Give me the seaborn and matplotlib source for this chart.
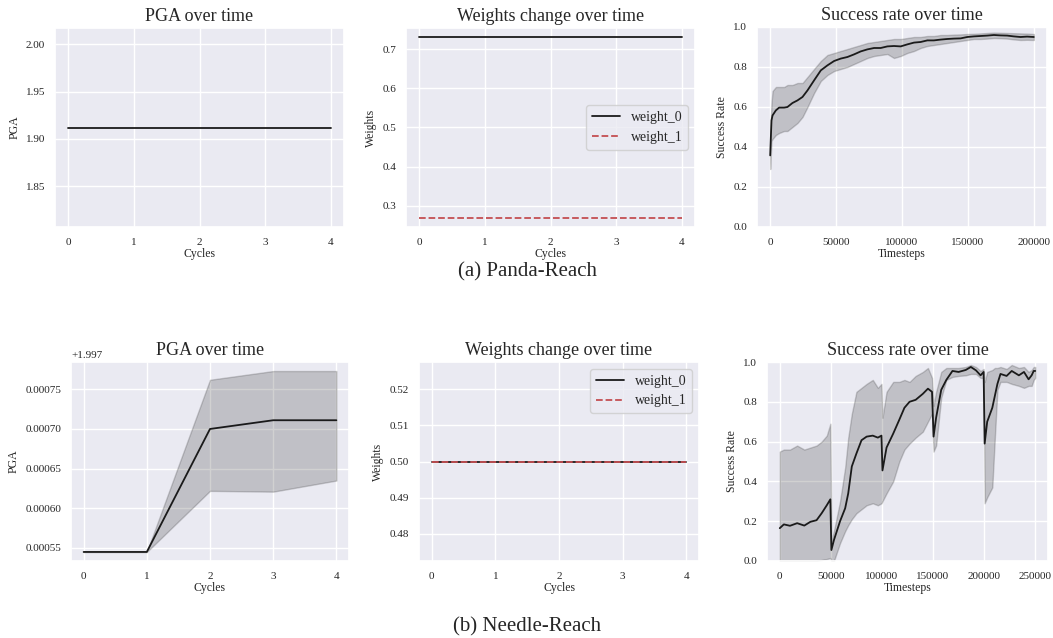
import matplotlib
matplotlib.use("Agg")
import matplotlib.pyplot as plt
import seaborn as sns

sns.set_theme(style="darkgrid")
plt.rcParams["font.family"] = ["Liberation Serif", "DejaVu Serif"]

# ---- dados ----
cycles = [0, 1, 2, 3, 4]

# (a) Panda-Reach
panda_pga = [1.912, 1.912, 1.912, 1.912, 1.912]
panda_w0 = [0.731, 0.731, 0.731, 0.731, 0.731]
panda_w1 = [0.269, 0.269, 0.269, 0.269, 0.269]

panda_steps = [0, 1000, 1800, 4300, 6800, 10600, 13100, 16900, 20700, 24500,
               28300, 33300, 38400, 43400, 48500, 53500, 58600, 63600, 68700, 73700,
               78800, 83800, 88900, 93900, 99000, 104000, 109100, 114100, 119200, 124200,
               129300, 134300, 139400, 144400, 149500, 154500, 159600, 164600, 169700, 174700,
               179800, 184800, 189900, 194900, 200000]
panda_sr = [0.358, 0.533, 0.558, 0.583, 0.597, 0.597, 0.600, 0.620, 0.633, 0.650,
            0.683, 0.733, 0.783, 0.808, 0.830, 0.842, 0.850, 0.863, 0.878, 0.888,
            0.895, 0.895, 0.903, 0.905, 0.903, 0.913, 0.922, 0.925, 0.933, 0.933,
            0.937, 0.940, 0.942, 0.943, 0.950, 0.953, 0.955, 0.957, 0.960, 0.958,
            0.957, 0.953, 0.950, 0.952, 0.950]
panda_sr_lo = [0.29, 0.43, 0.44, 0.46, 0.47, 0.48, 0.48, 0.50, 0.52, 0.55,
               0.60, 0.67, 0.73, 0.76, 0.78, 0.79, 0.80, 0.815, 0.83, 0.845,
               0.855, 0.86, 0.865, 0.845, 0.855, 0.87, 0.88, 0.895, 0.905, 0.91,
               0.915, 0.92, 0.925, 0.93, 0.935, 0.94, 0.94, 0.942, 0.945, 0.944,
               0.942, 0.938, 0.935, 0.936, 0.935]
panda_sr_hi = [0.45, 0.62, 0.68, 0.70, 0.70, 0.70, 0.71, 0.71, 0.72, 0.72,
               0.75, 0.79, 0.83, 0.86, 0.87, 0.88, 0.89, 0.90, 0.91, 0.92,
               0.925, 0.93, 0.935, 0.94, 0.94, 0.945, 0.95, 0.95, 0.955, 0.955,
               0.96, 0.96, 0.962, 0.963, 0.965, 0.966, 0.968, 0.97, 0.972, 0.971,
               0.97, 0.969, 0.968, 0.967, 0.965]

# (b) Needle-Reach
needle_pga = [1.997545, 1.997545, 1.997700, 1.997711, 1.997711]
needle_pga_lo = [1.997545, 1.997545, 1.997622, 1.997621, 1.997635]
needle_pga_hi = [1.997545, 1.997545, 1.997762, 1.997773, 1.997773]
needle_w0 = [0.5, 0.5, 0.5, 0.5, 0.5]
needle_w1 = [0.5, 0.5, 0.5, 0.5, 0.5]

needle_steps = [0, 4000, 10000, 17000, 24000, 30000, 36000, 41000, 46000, 49500,
                50500, 53000, 59000, 64000, 67000, 70500, 75000, 80000, 85000, 91000,
                96000, 99500, 100500, 104500, 111000, 117000, 122000, 127000, 133000, 140000,
                145000, 149000, 150500, 153000, 158000, 163000, 169000, 175000, 182000, 187000,
                192000, 196500, 199500, 200500, 203000, 208000, 210500, 213000, 216000, 222000,
                227000, 234000, 239000, 243500, 246500, 248500, 250000]
needle_sr = [0.165, 0.184, 0.177, 0.190, 0.178, 0.197, 0.205, 0.240, 0.280, 0.310,
             0.055, 0.105, 0.200, 0.265, 0.340, 0.475, 0.540, 0.607, 0.625, 0.630,
             0.620, 0.630, 0.455, 0.570, 0.640, 0.710, 0.770, 0.800, 0.810, 0.840,
             0.866, 0.850, 0.625, 0.720, 0.860, 0.910, 0.955, 0.950, 0.960, 0.975,
             0.958, 0.933, 0.950, 0.590, 0.700, 0.770, 0.830, 0.890, 0.940, 0.930,
             0.955, 0.933, 0.950, 0.913, 0.933, 0.955, 0.955]
needle_sr_lo = [0.0, 0.0, 0.0, 0.0, 0.0, 0.0, 0.0, 0.005, 0.01, 0.015,
                0.0, 0.0, 0.09, 0.15, 0.18, 0.21, 0.24, 0.26, 0.28, 0.29,
                0.28, 0.29, 0.30, 0.34, 0.40, 0.50, 0.56, 0.59, 0.62, 0.65,
                0.70, 0.74, 0.55, 0.58, 0.82, 0.91, 0.925, 0.93, 0.933, 0.94,
                0.94, 0.92, 0.92, 0.29, 0.32, 0.37, 0.62, 0.86, 0.90, 0.90,
                0.89, 0.88, 0.87, 0.88, 0.88, 0.91, 0.92]
needle_sr_hi = [0.55, 0.56, 0.56, 0.58, 0.56, 0.57, 0.58, 0.60, 0.63, 0.69,
                0.10, 0.15, 0.30, 0.47, 0.62, 0.74, 0.85, 0.87, 0.89, 0.91,
                0.87, 0.89, 0.72, 0.85, 0.90, 0.90, 0.91, 0.90, 0.93, 0.95,
                0.97, 0.92, 0.78, 0.85, 0.95, 0.97, 0.97, 0.97, 0.975, 0.985,
                0.975, 0.955, 0.965, 0.90, 0.95, 0.96, 0.97, 0.97, 0.975, 0.965,
                0.985, 0.97, 0.975, 0.95, 0.96, 0.975, 0.975]

# ---- figura ----
W, H = 1053, 638
fig = plt.figure(figsize=(W / 100, H / 100), dpi=100)


def rect(l, t, r, b):
    return [l / W, 1 - b / H, (r - l) / W, (b - t) / H]


LINE = "#1a1a1a"
RED = "#c44e52"


def style(ax, title, xlabel, ylabel):
    ax.set_title(title, fontsize=13, pad=5)
    ax.set_xlabel(xlabel, fontsize=8.5, labelpad=1)
    ax.set_ylabel(ylabel, fontsize=8.5, labelpad=4)
    ax.tick_params(labelsize=8, length=0)
    ax.tick_params(axis="x", pad=8)
    ax.tick_params(axis="y", pad=7)
    ax.yaxis.get_offset_text().set_fontsize(8)


def pga_plot(ax, y, lo=None, hi=None):
    sns.lineplot(x=cycles, y=y, ax=ax, color=LINE, linewidth=1.3)
    if lo is not None:
        ax.fill_between(cycles, lo, hi, color="k", alpha=0.2)
    ax.set_xticks(cycles)
    style(ax, "PGA over time", "Cycles", "PGA")


def weights_plot(ax, w0, w1, loc):
    sns.lineplot(x=cycles, y=w0, ax=ax, color=LINE, linewidth=1.3, label="weight_0")
    sns.lineplot(x=cycles, y=w1, ax=ax, color=RED, linewidth=1.3, linestyle="--", label="weight_1")
    ax.set_xticks(cycles)
    ax.legend(loc=loc, fontsize=10)
    style(ax, "Weights change over time", "Cycles", "Weights")


def sr_plot(ax, x, y, lo, hi):
    sns.lineplot(x=x, y=y, ax=ax, color=LINE, linewidth=1.3)
    ax.fill_between(x, lo, hi, color="k", alpha=0.2)
    ax.set_ylim(0, 1.0)
    style(ax, "Success rate over time", "Timesteps", "Success Rate")


# (a) Panda-Reach
ax1 = fig.add_axes(rect(55, 28, 344, 227))
pga_plot(ax1, panda_pga)
ax2 = fig.add_axes(rect(406, 28, 695, 227))
weights_plot(ax2, panda_w0, panda_w1, "center right")
ax3 = fig.add_axes(rect(757, 27, 1047, 227))
sr_plot(ax3, panda_steps, panda_sr, panda_sr_lo, panda_sr_hi)
ax3.set_xticks([0, 50000, 100000, 150000, 200000])

# (b) Needle-Reach
ax4 = fig.add_axes(rect(71, 362, 349, 561))
pga_plot(ax4, needle_pga, needle_pga_lo, needle_pga_hi)
ax5 = fig.add_axes(rect(419, 362, 699, 561))
weights_plot(ax5, needle_w0, needle_w1, "upper right")
ax6 = fig.add_axes(rect(767, 362, 1048, 561))
sr_plot(ax6, needle_steps, needle_sr, needle_sr_lo, needle_sr_hi)
ax6.set_xticks([0, 50000, 100000, 150000, 200000, 250000])

fig.text(527 / W, 1 - 272 / H, "(a) Panda-Reach", ha="center", va="center", fontsize=15)
fig.text(527 / W, 1 - 627 / H, "(b) Needle-Reach", ha="center", va="center", fontsize=15)

fig.savefig("out.png", dpi=100, facecolor="white")
